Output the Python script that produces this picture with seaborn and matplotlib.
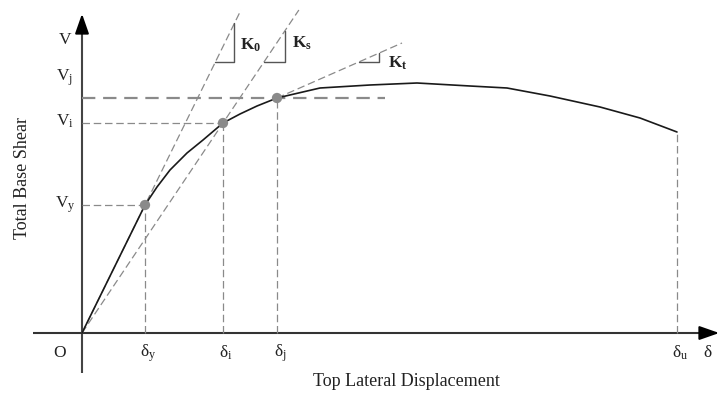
import matplotlib
matplotlib.use("Agg")
import matplotlib.pyplot as plt
import seaborn as sns
import numpy as np
import pandas as pd

sns.set_theme(style="white")
plt.rcParams['font.family'] = ['Liberation Serif', 'DejaVu Serif']
plt.rcParams['mathtext.fontset'] = 'custom'
plt.rcParams['mathtext.rm'] = 'Liberation Serif'
plt.rcParams['mathtext.it'] = 'Liberation Serif'
plt.rcParams['mathtext.bf'] = 'Liberation Serif:bold'

# ---- data ----
disp = [0, 63, 75, 88, 105, 121, 141, 158, 175, 195, 238, 288, 335, 388,
        425, 468, 518, 558, 595]
shear = [0, 128, 146, 163, 180, 193, 210, 219, 227, 235, 245, 248, 250, 247,
         245, 237, 226, 215, 201]
key_disp = [63, 141, 195]          # delta_y, delta_i, delta_j
key_shear = [128, 210, 235]        # V_y, V_i, V_j
delta_u = 595
V_u = 201
kt_slope = 0.44

fig = plt.figure(figsize=(7.25, 3.94), dpi=100)
ax = fig.add_axes([0, 0, 1, 1])

gray = '#8a8a8a'
dash_kw = dict(color=gray, lw=0.9, ls=(0, (6, 3)))

# axes with arrows
ax.plot([-49, 630], [0, 0], color='#333333', lw=1.5, solid_capstyle='butt')
ax.plot([0, 0], [-40, 312], color='#444444', lw=1.5, solid_capstyle='butt')
ax.annotate('', xy=(640, 0), xytext=(622, 0),
            arrowprops=dict(arrowstyle='-|>,head_length=1.0,head_width=0.35',
                            color='black', lw=1.5))
ax.annotate('', xy=(0, 322), xytext=(0, 300),
            arrowprops=dict(arrowstyle='-|>,head_length=1.0,head_width=0.35',
                            color='black', lw=1.5))

# stiffness lines
k0 = key_shear[0] / key_disp[0]
ks = key_shear[1] / key_disp[1]
ytop = 323
ax.plot([0, ytop / k0], [0, ytop], **dash_kw)
ax.plot([0, ytop / ks], [0, ytop], **dash_kw)
ax.plot([key_disp[2], 320], [key_shear[2], key_shear[2] + kt_slope * (320 - key_disp[2])], **dash_kw)

# reference dashed lines
for dx, vy in zip(key_disp, key_shear):
    ax.plot([dx, dx], [0, vy], **dash_kw)
for dx, vy in zip(key_disp[:2], key_shear[:2]):
    ax.plot([0, dx], [vy, vy], **dash_kw)
ax.plot([0, 303], [key_shear[2], key_shear[2]], color=gray, lw=1.6, ls=(0, (6, 3.5)))
ax.plot([delta_u, delta_u], [0, V_u], **dash_kw)

# slope triangles
tri_y = 271
def tri(slope, x0, y0, width):
    xa = x0 + (tri_y - y0) / slope
    xb = xa + width
    yb = y0 + slope * (xb - x0)
    ax.plot([xa, xb, xb], [tri_y, tri_y, yb], color='#555555', lw=1.0)
tri(k0, 0, 0, 19)
tri(ks, 0, 0, 21)
tri(kt_slope, key_disp[2], key_shear[2], 20)

# curve
df = pd.DataFrame({'disp': disp, 'shear': shear})
sns.lineplot(data=df, x='disp', y='shear', ax=ax, color='#1a1a1a', lw=1.2,
             sort=False, estimator=None)
pts = pd.DataFrame({'d': key_disp, 'v': key_shear})
sns.scatterplot(data=pts, x='d', y='v', ax=ax, color='#8a8a8a', s=55,
                edgecolor='none', zorder=5)
ax.set_xlim(-82, 643)
ax.set_ylim(-61, 333)
ax.axis('off')

fs = 12.5
tc = '#222222'
# y labels
ax.text(-17, 293, r'V', ha='center', va='center', fontsize=fs, color=tc)
ax.text(-17, 255, r'$\mathrm{V_j}$', ha='center', va='center', fontsize=fs, color=tc)
ax.text(-17, 212, r'$\mathrm{V_i}$', ha='center', va='center', fontsize=fs, color=tc)
ax.text(-17, 128, r'$\mathrm{V_y}$', ha='center', va='center', fontsize=fs, color=tc)
# x labels
xl_y = -20
ax.text(-22, xl_y, 'O', ha='center', va='center', fontsize=fs, color=tc)
for dx, lab in zip(key_disp + [delta_u], ['y', 'i', 'j', 'u']):
    ax.text(dx + 3, xl_y, r'$\mathrm{\delta_%s}$' % lab, ha='center', va='center',
            fontsize=fs, color=tc)
ax.text(626, xl_y, r'$\mathrm{\delta}$', ha='center', va='center', fontsize=fs, color=tc)

# stiffness labels
ax.text(158, 288, r'$\mathbf{K_0}$', ha='left', va='center', fontsize=fs, color=tc)
ax.text(210, 290, r'$\mathbf{K_s}$', ha='left', va='center', fontsize=fs, color=tc)
ax.text(306, 270, r'$\mathbf{K_t}$', ha='left', va='center', fontsize=fs, color=tc)

# axis titles
ax.text(324, -48, 'Top Lateral Displacement', ha='center', va='center',
        fontsize=13, color=tc)
ax.text(-60, 155, 'Total Base Shear', ha='center', va='center', rotation=90,
        fontsize=13, color=tc)

fig.savefig('out.png', dpi=100)
